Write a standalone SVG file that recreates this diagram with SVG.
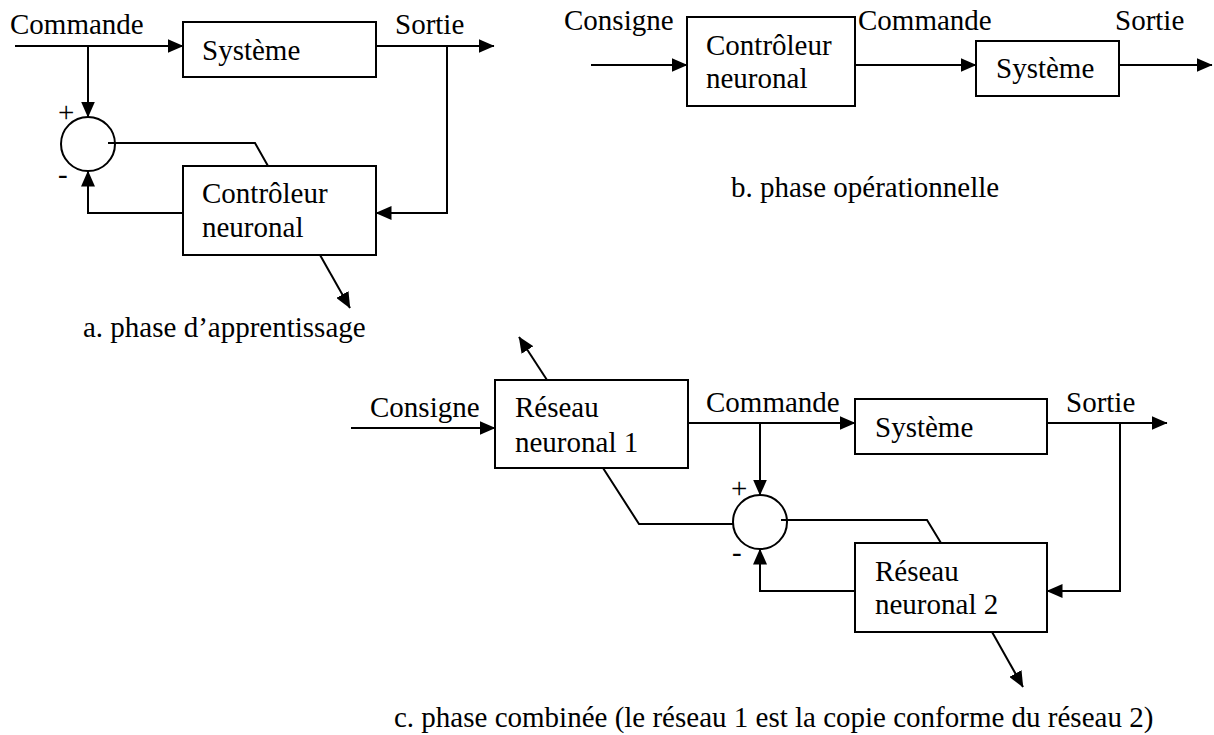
<svg xmlns="http://www.w3.org/2000/svg" width="1214" height="735" viewBox="0 0 1214 735" font-family="'Liberation Serif', 'Times New Roman', 'DejaVu Serif', serif">
<style>
text{font-family:"Liberation Serif","Times New Roman","DejaVu Serif",serif;font-size:29px;fill:#000}
.box{fill:#fff;stroke:#000;stroke-width:2}
.sum{fill:#fff;stroke:#000;stroke-width:2}
.ln{fill:none;stroke:#000;stroke-width:2}
.ar{fill:none;stroke:#000;stroke-width:2;marker-end:url(#ah)}
</style>
<defs>
<marker id="ah" markerUnits="userSpaceOnUse" viewBox="0 0 16 14" markerWidth="16" markerHeight="14" refX="15.5" refY="7" orient="auto">
<path d="M0,0 L16,7 L0,14 z" fill="#000"/>
</marker>
</defs>
<rect width="1214" height="735" fill="#fff"/>

<!-- Part a -->
<g id="a-connectors">
<path class="ar" d="M15,46 H183"/>
<path class="ar" d="M376,46 H494"/>
<path class="ar" d="M447,46 V213 H376"/>
<path class="ar" d="M88,46 V117"/>
<path class="ar" d="M183,213 H88 V171"/>
<path class="ln" d="M110,143 H255 L268,166"/>
<path class="ar" d="M320,255 L350,308"/>
</g>
<g id="a-systeme">
<rect class="box" x="183" y="22" width="193" height="55"/>
<text x="202" y="60">Système</text>
</g>
<g id="a-controleur">
<rect class="box" x="183" y="166" width="193" height="89"/>
<text x="202" y="203">Contrôleur</text>
<text x="202" y="237">neuronal</text>
</g>
<g id="a-sum">
<circle class="sum" cx="88" cy="144" r="27"/>
<path class="ln" d="M108,143 H116"/>
<text x="58" y="122">+</text>
<text x="58" y="184">-</text>
</g>
<g id="a-labels">
<text x="10" y="34">Commande</text>
<text x="395" y="34">Sortie</text>
<text x="83" y="337">a. phase d’apprentissage</text>
</g>

<!-- Part b -->
<g id="b-connectors">
<path class="ar" d="M591,65 H687"/>
<path class="ar" d="M855,65 H976"/>
<path class="ar" d="M1119,65 H1212"/>
</g>
<g id="b-controleur">
<rect class="box" x="687" y="17" width="168" height="89"/>
<text x="706" y="55">Contrôleur</text>
<text x="706" y="88">neuronal</text>
</g>
<g id="b-systeme">
<rect class="box" x="976" y="41" width="143" height="55"/>
<text x="996" y="78">Système</text>
</g>
<g id="b-labels">
<text x="564" y="30">Consigne</text>
<text x="858" y="30">Commande</text>
<text x="1115" y="30">Sortie</text>
<text x="731" y="197">b. phase opérationnelle</text>
</g>

<!-- Part c -->
<g id="c-connectors">
<path class="ar" d="M351,428 H495"/>
<path class="ar" d="M688,423 H855"/>
<path class="ar" d="M760,423 V495"/>
<path class="ar" d="M1047,423 H1167"/>
<path class="ar" d="M1120,423 V591 H1047"/>
<path class="ar" d="M855,591 H760 V549"/>
<path class="ln" d="M783,520 H927 L941,543"/>
<path class="ln" d="M603,468 L639,524 H733"/>
<path class="ar" d="M547,380 L519,337"/>
<path class="ar" d="M992,632 L1023,687"/>
</g>
<g id="c-reseau1">
<rect class="box" x="495" y="380" width="193" height="88"/>
<text x="515" y="417">Réseau</text>
<text x="515" y="452">neuronal 1</text>
</g>
<g id="c-systeme">
<rect class="box" x="855" y="399" width="192" height="55"/>
<text x="875" y="437">Système</text>
</g>
<g id="c-reseau2">
<rect class="box" x="855" y="543" width="192" height="89"/>
<text x="875" y="581">Réseau</text>
<text x="875" y="614">neuronal 2</text>
</g>
<g id="c-sum">
<circle class="sum" cx="760" cy="522" r="27"/>
<path class="ln" d="M781,520 H787"/>
<text x="731" y="498">+</text>
<text x="732" y="562">-</text>
</g>
<g id="c-labels">
<text x="370" y="417">Consigne</text>
<text x="706" y="412">Commande</text>
<text x="1066" y="412">Sortie</text>
<text x="394" y="727">c. phase combinée (le réseau 1 est la copie conforme du réseau 2)</text>
</g>
</svg>
